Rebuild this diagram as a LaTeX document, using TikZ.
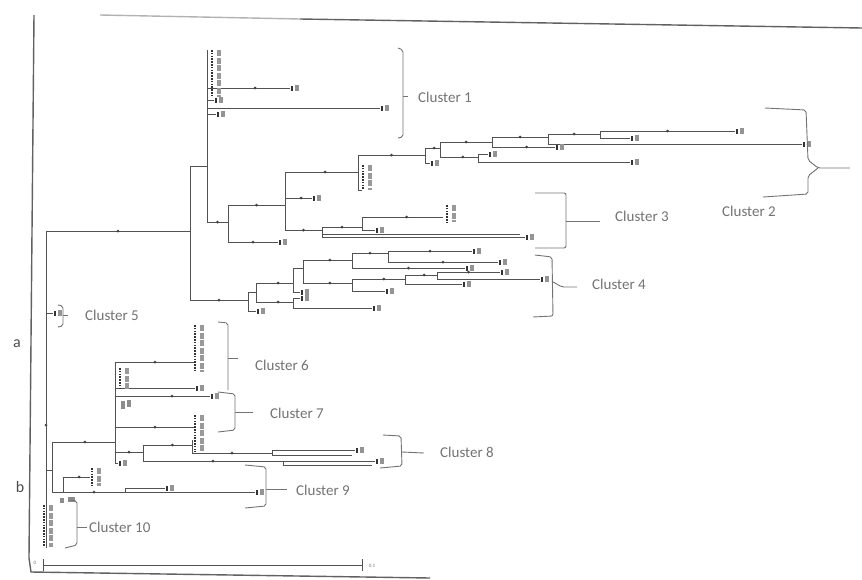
\documentclass[tikz,border=0pt]{standalone}
\usepackage{fontspec}
\setmainfont{Carlito}
\usetikzlibrary{calc}
\tikzset{
 br/.style={draw=black!68,line width=1pt},
 tkc/.style={fill=black!75},
 brk/.style={draw=black!55,line width=0.9pt,rounded corners=2pt},
 cl/.style={text=black!55,font=\fontsize{15}{17}\selectfont,anchor=west,inner sep=0pt},
 frm/.style={draw=black!62,line width=1.4pt},
 stkd/.style={draw=black!80,line width=2pt,dash pattern=on 1.6pt off 1.2pt},
 stkt/.style={draw=black!40,line width=4.5pt,dash pattern=on 6pt off 1.5pt},
 tiny/.style={text=black!55,font=\fontsize{5}{6}\selectfont,inner sep=0pt},
 side/.style={text=black!70,font=\fontsize{16}{18}\selectfont,inner sep=0pt},
}
\newcommand\tbr[3]{\draw[br] (#1) |- (#2); \fill[tkc] ($(#1|-#2)!#3!(#2)$) circle (1.5pt);}
\newcommand\tbn[2]{\draw[br] (#1) |- (#2);}
\newcommand\tlf[1]{\fill[black!80] ($(#1)+(0.5,-2.5)$) rectangle ++(2.5,5); \fill[black!42] ($(#1)+(5,-3)$) rectangle ++(4,6);}
\newcommand\tstk[3]{\draw[stkd] (#1,#2) -- (#1,#3); \draw[stkt] (#1+7,#2) -- (#1+7,#3);}
\begin{document}
\begin{tikzpicture}[x=1pt,y=-1pt]
\useasboundingbox (0,0) rectangle (862,579);
% frame of the scanned page
\draw[frm,draw=black!30] (100,15) -- (300,19);
\draw[frm] (300,19) -- (862,28);
\draw[frm] (34,15) -- (29,558) -- (31,572) -- (430,578);
% scale bar
\coordinate (sb0) at (43,565);
\coordinate (sb1) at (362,565);
\draw[br] (sb0) -- (sb1);
\draw[br] ($(sb0)+(0,-6)$) -- ($(sb0)+(0,6)$);
\draw[br] ($(sb1)+(0,-6)$) -- ($(sb1)+(0,6)$);
\node[tiny] (s0) at (35,563) {0};
\node[tiny] (s1) at (372,566) {0.1};
% side letters
\node[side] (la) at (17,344) {a};
\node[side] (lb) at (20,487) {b};

% ---------- coordinates of the tree ----------
\coordinate (R) at (46,231);
\coordinate (Rb) at (46,548);
\coordinate (A) at (190,231);
\coordinate (A1) at (207,166);
\coordinate (A1t) at (207,50);
\coordinate (C1a) at (290,88);
\coordinate (C1b) at (380,108);
\coordinate (C1c) at (214,100);
\coordinate (C1d) at (216,114);
\coordinate (C23) at (228,222);
\coordinate (C4) at (248,300);
% clusters 2 and 3
\coordinate (L23) at (278,242);
\coordinate (N3) at (285,205);
\coordinate (N2a) at (358,172);
\coordinate (L3a) at (312,198);
\coordinate (N3b) at (322,230);
\coordinate (N2b) at (425,155);
\coordinate (N2ab) at (362,190);
\coordinate (N2c) at (440,148);
\coordinate (L2m) at (430,163);
\coordinate (N2d) at (492,142);
\coordinate (N2e) at (478,157);
\coordinate (N2f) at (548,137);
\coordinate (L2d) at (555,147);
\coordinate (N2g) at (600,134);
\coordinate (L2f) at (802,144);
\coordinate (L2g1) at (735,131);
\coordinate (L2g2) at (630,138);
\coordinate (L2e1) at (488,154);
\coordinate (L2e2) at (630,162);
\coordinate (N3c) at (362,227);
\coordinate (L3l1) at (525,237);
\coordinate (L3l2) at (520,234);
\coordinate (L3c1) at (443,217);
\coordinate (L3c2) at (375,230);
% cluster 4
\coordinate (C4a) at (256,292);
\coordinate (L4x) at (256,311);
\coordinate (C4b) at (293,283);
\coordinate (C4c) at (293,302);
\coordinate (C4d) at (303,268);
\coordinate (L4b) at (300,292);
\coordinate (L4c1) at (300,298);
\coordinate (L4c2) at (372,308);
\coordinate (C4e) at (352,260);
\coordinate (C4f) at (352,283);
\coordinate (C4g) at (388,253);
\coordinate (L4e) at (465,268);
\coordinate (L4g1) at (472,251);
\coordinate (L4g2) at (498,262);
\coordinate (C4h) at (405,279);
\coordinate (L4f) at (385,291);
\coordinate (C4i) at (437,275);
\coordinate (L4h) at (462,284);
\coordinate (L4i1) at (500,272);
\coordinate (L4i2) at (540,279);
% lower part
\coordinate (L5) at (53,313);
\coordinate (B) at (52,470);
\coordinate (D) at (115,442);
\coordinate (E) at (63,492);
\coordinate (L6) at (195,362);
\coordinate (L6b) at (195,388);
\coordinate (L7a) at (210,396);
\coordinate (L7) at (195,427);
\coordinate (F) at (143,452);
\coordinate (Ltm) at (118,463);
\coordinate (G) at (192,445);
\coordinate (Gt) at (192,440);
\coordinate (F2) at (283,461);
\coordinate (H) at (272,453);
\coordinate (L8a1) at (355,450);
\coordinate (L8a2) at (352,455);
\coordinate (L8b1) at (375,461);
\coordinate (L8b2) at (372,465);
\coordinate (L9a) at (90,477);
\coordinate (E2) at (125,492);
\coordinate (L9b1) at (165,488);
\coordinate (L9b2) at (255,492);

% ---------- branches ----------
\draw[br] (R) -- (Rb);
\fill[tkc] (46,425) circle (1.5pt);
\tbr{R}{A}{.5}
\tbn{R}{L5}
\tbn{R}{B}
\draw[br] (A1) -- (A1t);
\tbn{A}{A1}
\tbr{A}{C4}{.5}
\tbr{A1}{C1a}{.58}
\tbn{A1}{C1b}
\tbn{A1}{C1c}
\tbn{A1}{C1d}
\tbr{A1}{C23}{.5}
\tbr{C23}{N3}{.5}
\tbr{C23}{L23}{.5}
\tbr{N3}{N2a}{.55}
\tbr{N3}{L3a}{.6}
\tbr{N3}{N3b}{.5}
\tbr{N2a}{N2b}{.5}
\tbn{N2a}{N2ab}
\tbr{N2b}{N2c}{.6}
\tbn{N2b}{L2m}
\tbr{N2c}{N2d}{.5}
\tbr{N2c}{N2e}{.6}
\tbr{N2d}{N2f}{.5}
\tbr{N2d}{L2d}{.55}
\tbr{N2f}{N2g}{.5}
\tbn{N2f}{L2f}
\tbr{N2g}{L2g1}{.5}
\tbn{N2g}{L2g2}
\tbn{N2e}{L2e1}
\tbn{N2e}{L2e2}
\tbr{N3b}{N3c}{.5}
\tbn{N3b}{L3l1}
\tbn{N3b}{L3l2}
\tbr{N3c}{L3c1}{.55}
\tbn{N3c}{L3c2}
\tbn{C4}{C4a}
\tbn{C4}{L4x}
\tbr{C4a}{C4b}{.6}
\tbr{C4a}{C4c}{.6}
\tbn{C4b}{C4d}
\tbn{C4b}{L4b}
\tbn{C4c}{L4c1}
\tbn{C4c}{L4c2}
\tbr{C4d}{C4e}{.55}
\tbr{C4d}{C4f}{.55}
\tbr{C4e}{C4g}{.5}
\tbr{C4e}{L4e}{.5}
\tbr{C4g}{L4g1}{.5}
\tbr{C4g}{L4g2}{.5}
\tbr{C4f}{C4h}{.6}
\tbn{C4f}{L4f}
\tbr{C4h}{C4i}{.6}
\tbn{C4h}{L4h}
\tbr{C4i}{L4i1}{.5}
\tbn{C4i}{L4i2}
\tbr{B}{D}{.52}
\tbn{B}{E}
\tbr{D}{L6}{.5}
\tbn{D}{L6b}
\tbr{D}{L7a}{.6}
\tbr{D}{L7}{.5}
\tbr{D}{F}{.5}
\tbn{D}{Ltm}
\tbr{F}{G}{.6}
\tbr{F}{F2}{.5}
\draw[br] (G) -- (Gt);
\tbr{G}{H}{.5}
\tbn{H}{L8a1}
\tbn{H}{L8a2}
\tbn{F2}{L8b1}
\tbn{F2}{L8b2}
\tbr{E}{L9a}{.6}
\tbr{E}{E2}{.5}
\tbn{E2}{L9b1}
\tbn{E2}{L9b2}

% ---------- leaf labels (illegible in the scan) ----------
\tstk{212}{50}{97}
\tstk{363}{165}{190}
\tstk{447}{205}{222}
\tstk{195}{325}{372}
\tstk{120}{368}{390}
\tstk{195}{415}{452}
\tstk{92}{468}{486}
\tstk{44}{505}{547}
\foreach \c in {C1a,C1b,C1c,C1d,L23,L3a,L2m,L2d,L2f,L2g1,L2g2,L2e1,L2e2,L3l1,L3c2,
  L4x,L4b,L4c1,L4c2,L4e,L4g1,L4g2,L4f,L4h,L4i1,L4i2,L5,L6b,L7a,Ltm,L8a1,L8b1,L9b1,L9b2}
  {\tlf{\c}}
\fill[black!45] (121,401) rectangle (125,409);
\fill[black!45] (127,400) rectangle (131,407);
\fill[black!45] (60,498) rectangle (64,503);
\fill[black!45] (68,497) rectangle (75,502);

% ---------- brackets and cluster labels ----------
\draw[brk] (398,48) -- (403,50) -- (403,137) -- (398,138);
\draw[brk] (403,96) -- (408,96);
\node[cl] (k1) at (418,97) {Cluster 1};

\draw[brk] (765,108) -- (806,110) -- (808,160) -- (818,168) -- (850,168);
\draw[brk] (818,168) -- (808,176) -- (808,194) -- (763,197);
\node[cl] (k2) at (722,211) {Cluster 2};

\draw[brk] (535,193) -- (566,193) -- (566,248) -- (535,248);
\draw[brk] (566,221) -- (600,221);
\node[cl] (k3) at (615,216) {Cluster 3};

\draw[brk] (535,255) -- (552,257) -- (553,316) -- (533,317);
\draw[brk] (553,282) -- (562,287) -- (577,287);
\node[cl] (k4) at (592,284) {Cluster 4};

\draw[brk] (58,305) -- (63,306) -- (63,326) -- (58,327);
\draw[brk] (63,315) -- (68,315);
\node[cl] (k5) at (85,315) {Cluster 5};

\draw[brk] (218,322) -- (228,323) -- (228,390);
\draw[brk] (228,358) -- (238,358);
\node[cl] (k6) at (255,365) {Cluster 6};

\draw[brk] (218,392) -- (235,394) -- (235,430) -- (218,432);
\draw[brk] (235,412) -- (253,412);
\node[cl] (k7) at (270,413) {Cluster 7};

\draw[brk] (383,435) -- (401,436) -- (402,466) -- (380,468);
\draw[brk] (402,452) -- (424,453);
\node[cl] (k8) at (440,452) {Cluster 8};

\draw[brk] (245,465) -- (266,467) -- (266,506) -- (245,508);
\draw[brk] (266,489) -- (287,489);
\node[cl] (k9) at (296,490) {Cluster 9};

\draw[brk] (70,500) -- (77,501) -- (77,545) -- (65,548);
\draw[brk] (77,527) -- (87,527);
\node[cl] (k10) at (89,527) {Cluster 10};
\end{tikzpicture}
\end{document}
